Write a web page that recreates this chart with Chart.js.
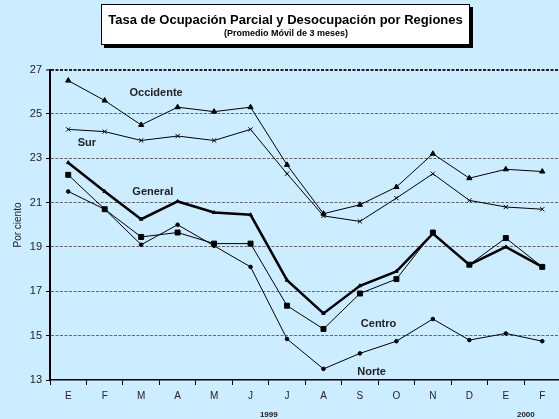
<!DOCTYPE html>
<html>
<head>
<meta charset="utf-8">
<script src="https://cdn.jsdelivr.net/npm/chart.js@4/dist/chart.umd.min.js"></script>
<style>
  html, body { margin: 0; padding: 0; background: #CCECFF; overflow: hidden; width: 559px; height: 419px; }
  canvas { display: block; }
</style>
</head>
<body>
<canvas id="c" width="565" height="419"></canvas>
<script>
const months = ['E','F','M','A','M','J','J','A','S','O','N','D','E','F'];
const occidente = [26.5, 25.6, 24.5, 25.3, 25.1, 25.3, 22.7, 20.5, 20.9, 21.7, 23.2, 22.1, 22.5, 22.4];
const sur       = [24.3, 24.2, 23.8, 24.0, 23.8, 24.3, 22.3, 20.4, 20.15, 21.2, 22.3, 21.1, 20.8, 20.7];
const general   = [22.8, 21.5, 20.25, 21.05, 20.55, 20.45, 17.5, 16.0, 17.25, 17.9, 19.6, 18.2, 19.0, 18.1];
const centro    = [22.25, 20.7, 19.45, 19.65, 19.15, 19.15, 16.35, 15.3, 16.9, 17.55, 19.65, 18.2, 19.4, 18.1];
const norte     = [21.5, 20.7, 19.1, 20.0, 19.05, 18.1, 14.85, 13.5, 14.2, 14.75, 15.75, 14.8, 15.1, 14.75];
const yearLabels = ['1999', '2000'];

const FONT = 'Arial, "Liberation Sans", sans-serif';

const seriesLabels = [
  { text: 'Occidente', xi: 2.41, y: 25.93 },
  { text: 'Sur',       xi: 0.51, y: 23.70 },
  { text: 'General',   xi: 2.32, y: 21.46 },
  { text: 'Centro',    xi: 8.51, y: 15.51 },
  { text: 'Norte',     xi: 8.32, y: 13.35 }
];
const yearPos = [5.5, 12.55];

const decor = {
  id: 'decor',
  beforeDraw(chart) {
    const ctx = chart.ctx;
    ctx.save();
    ctx.fillStyle = '#CCECFF';
    ctx.fillRect(0, 0, chart.width, chart.height);
    ctx.restore();
  },
  afterDraw(chart) {
    const ctx = chart.ctx;
    const xs = chart.scales.x, ys = chart.scales.y;
    ctx.save();
    // title box
    ctx.fillStyle = '#000';
    ctx.fillRect(104, 7, 369, 41);
    ctx.fillStyle = '#fff';
    ctx.fillRect(101, 4, 369, 41);
    ctx.strokeStyle = '#000';
    ctx.lineWidth = 1;
    ctx.strokeRect(101.5, 4.5, 368, 40);
    ctx.fillStyle = '#000';
    ctx.textAlign = 'center';
    ctx.textBaseline = 'middle';
    ctx.font = 'bold 13px ' + FONT;
    ctx.fillText('Tasa de Ocupación Parcial y Desocupación por Regiones', 285.5, 20.5);
    ctx.font = 'bold 9px ' + FONT;
    ctx.fillText('(Promedio Móvil de 3 meses)', 286, 33.5);

    // series labels
    ctx.fillStyle = '#222';
    ctx.font = 'bold 11px ' + FONT;
    const step = xs.getPixelForValue(1) - xs.getPixelForValue(0);
    const x0 = xs.getPixelForValue(0);
    seriesLabels.forEach(l => {
      ctx.fillText(l.text, x0 + l.xi * step, ys.getPixelForValue(l.y));
    });

    // year labels
    ctx.font = 'bold 8px ' + FONT;
    yearLabels.forEach((t, i) => {
      ctx.fillText(t, x0 + yearPos[i] * step, 414.5);
    });

    // y-axis title
    ctx.font = '10px ' + FONT;
    ctx.translate(18, 225);
    ctx.rotate(-Math.PI / 2);
    ctx.fillText('Por ciento', 0, 0);
    ctx.restore();
  }
};

const thin = (data, style, radius) => ({
  data,
  borderColor: '#000',
  backgroundColor: '#000',
  borderWidth: 1,
  pointStyle: style,
  pointRadius: radius,
  pointBorderWidth: 1,
  pointHoverRadius: radius,
  tension: 0,
  fill: false
});

new Chart(document.getElementById('c'), {
  type: 'line',
  data: {
    labels: months,
    datasets: [
      Object.assign(thin(norte, 'circle', 1.8), { label: 'Norte' }),
      Object.assign(thin(centro, 'rect', 3.5), { label: 'Centro' }),
      Object.assign(thin(sur, 'crossRot', 3), { label: 'Sur' }),
      Object.assign(thin(occidente, 'triangle', 3), { label: 'Occidente' }),
      Object.assign(thin(general, 'triangle', 2), { label: 'General', borderWidth: 2.5 })
    ]
  },
  options: {
    responsive: false,
    animation: false,
    devicePixelRatio: 1,
    layout: { padding: { top: 69.5, right: 0, bottom: 0, left: 0 } },
    plugins: { legend: { display: false }, tooltip: { enabled: false }, title: { display: false } },
    scales: {
      x: {
        offset: true,
        afterFit: s => { s.height = 39; },
        grid: {
          offset: true,
          drawOnChartArea: false,
          drawTicks: true,
          tickLength: 5,
          tickColor: '#000',
          tickWidth: 1
        },
        border: { display: true, color: '#000', width: 1.5 },
        ticks: { color: '#222', font: { family: FONT, size: 10 }, padding: 5, maxRotation: 0, autoSkip: false }
      },
      y: {
        min: 13,
        max: 27,
        afterFit: s => { s.width = 50; },
        ticks: { stepSize: 2, color: '#222', font: { family: FONT, size: 11 }, padding: 4 },
        grid: {
          color: ctx => (ctx.tick && ctx.tick.value === 27) ? '#222' : (ctx.tick && ctx.tick.value === 13 ? 'rgba(0,0,0,0)' : '#666'),
          lineWidth: ctx => (ctx.tick && ctx.tick.value === 27) ? 2 : 1,
          drawTicks: true,
          tickLength: 4,
          tickColor: '#000',
          tickWidth: 1
        },
        border: { display: true, color: '#000', width: 2, dash: [3, 1.5] }
      }
    }
  },
  plugins: [decor]
});
</script>
</body>
</html>
